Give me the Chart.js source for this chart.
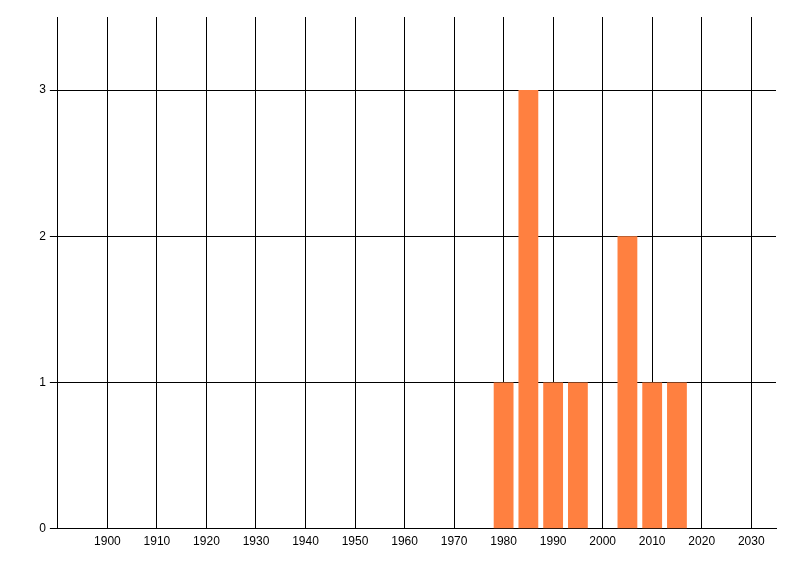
<!DOCTYPE html>
<html>
<head>
<meta charset="utf-8">
<script src="https://cdn.jsdelivr.net/npm/chart.js@4"></script>
<style>
  html, body { margin: 0; padding: 0; background: #fff; }
</style>
</head>
<body>
<canvas id="chart" width="800" height="576"></canvas>
<script>
// one bar per five-year bucket that has entries
const years = [1980, 1985, 1990, 1995, 2005, 2010, 2015];
const counts = [1, 3, 1, 1, 2, 1, 1];

const xMin = 1890, xMax = 2035, xStep = 10;
const yMin = 0, yMax = 3.5, yStep = 1;

Chart.defaults.font.family = 'Liberation Sans';
Chart.defaults.font.size = 12;
Chart.defaults.color = '#000';

const ctx = document.getElementById('chart').getContext('2d');

const chart = new Chart(ctx, {
  type: 'bar',
  data: {
    datasets: [{
      data: years.map((y, i) => ({ x: y, y: counts[i] })),
      backgroundColor: '#ff8040',
      borderWidth: 0,
      barPercentage: 0.8,
      categoryPercentage: 1
    }]
  },
  options: {
    responsive: false,
    animation: false,
    layout: { padding: { top: 17, right: 24, left: 35.2, bottom: 20.8 } },
    plugins: { legend: { display: false }, tooltip: { enabled: false } },
    scales: {
      x: {
        type: 'linear',
        min: xMin,
        max: xMax,
        offset: false,
        grid: { offset: false, color: '#000', drawTicks: false },
        border: { color: '#000' },
        ticks: {
          stepSize: xStep,
          includeBounds: false,
          autoSkip: false,
          maxRotation: 0,
          padding: 6,
          callback: v => (v === xMin ? '' : String(v))
        }
      },
      y: {
        min: yMin,
        max: yMax,
        grid: { color: '#000', tickLength: 8 },
        border: { color: '#000' },
        ticks: {
          stepSize: yStep,
          includeBounds: false,
          padding: 4
        }
      }
    }
  }
});
</script>
</body>
</html>
